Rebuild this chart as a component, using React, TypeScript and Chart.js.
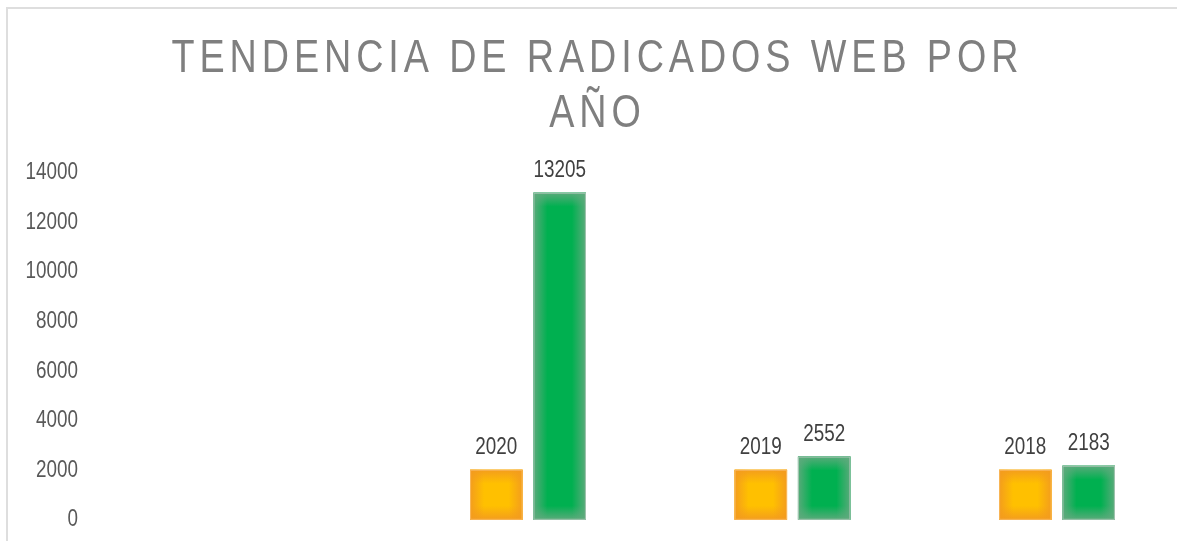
import React, { useEffect, useRef } from "react";
import { Chart, registerables } from "chart.js";

Chart.register(...registerables);

const categories = ["", "2020", "2019", "2018"];
const yearValues = [null, 2020, 2019, 2018];
const webValues = [null, 13205, 2552, 2183];
const yTicks = [0, 2000, 4000, 6000, 8000, 10000, 12000, 14000];
const titleLines = ["TENDENCIA DE RADICADOS WEB POR", "AÑO"];

const FONT = '"Liberation Sans", Arial, sans-serif';
const SQUEEZE = 0.82;

const barStyle: Record<number, { base: string; edge: string; fade: string; outline: string }> = {
  0: { base: "#FFC000", edge: "rgba(243,155,30,0.95)", fade: "rgba(243,155,30,0)", outline: "rgba(248,185,100,0.9)" },
  1: { base: "#00B050", edge: "rgba(95,170,125,0.95)", fade: "rgba(95,170,125,0)", outline: "rgba(175,200,185,0.9)" },
};

function squeezedText(ctx: CanvasRenderingContext2D, text: string, x: number, y: number, align: "left" | "center" | "right", spacing = 0) {
  ctx.save();
  (ctx as any).letterSpacing = spacing + "px";
  ctx.textAlign = "left";
  const w = (ctx.measureText(text).width - spacing) * SQUEEZE;
  let left = x;
  if (align === "center") left = x - w / 2;
  else if (align === "right") left = x - w;
  ctx.translate(left, y);
  ctx.scale(SQUEEZE, 1);
  ctx.fillText(text, 0, 0);
  ctx.restore();
}

const titlePlugin = {
  id: "customTitle",
  afterDraw(chart: any) {
    const ctx = chart.ctx as CanvasRenderingContext2D;
    ctx.save();
    ctx.fillStyle = "#7F7F7F";
    ctx.font = `46px ${FONT}`;
    ctx.textBaseline = "alphabetic";
    const baselines = [63, 118];
    titleLines.forEach((line, i) => squeezedText(ctx, line, 587, baselines[i], "center", 6));
    ctx.restore();
  },
};

const tickPlugin = {
  id: "yTickText",
  afterDraw(chart: any) {
    const ctx = chart.ctx as CanvasRenderingContext2D;
    const scale = chart.scales.y;
    ctx.save();
    ctx.fillStyle = "#595959";
    ctx.font = `23px ${FONT}`;
    ctx.textBaseline = "middle";
    yTicks.forEach((v) => squeezedText(ctx, String(v), 70, scale.getPixelForValue(v), "right"));
    ctx.restore();
  },
};

const barLookPlugin = {
  id: "barLook",
  afterDatasetsDraw(chart: any) {
    const ctx = chart.ctx as CanvasRenderingContext2D;
    chart.data.datasets.forEach((ds: any, di: number) => {
      const meta = chart.getDatasetMeta(di);
      const st = barStyle[di];
      meta.data.forEach((el: any, i: number) => {
        if (ds.data[i] == null) return;
        const { x, y, base, width } = el.getProps(["x", "y", "base", "width"], true);
        const l = x - width / 2;
        const t = Math.min(y, base);
        const h = Math.abs(base - y);
        const w = width;
        ctx.save();
        ctx.fillStyle = st.base;
        ctx.fillRect(l, t, w, h);
        const d = Math.min(14, w / 3.2, h / 3.2);
        const sides: [number, number, number, number, number, number, number, number][] = [
          [l, t, w, d, l, t, l, t + d],
          [l, t + h - d, w, d, l, t + h, l, t + h - d],
          [l, t, d, h, l, t, l + d, t],
          [l + w - d, t, d, h, l + w, t, l + w - d, t],
        ];
        sides.forEach(([rx, ry, rw, rh, gx0, gy0, gx1, gy1]) => {
          const g = ctx.createLinearGradient(gx0, gy0, gx1, gy1);
          g.addColorStop(0, st.edge);
          g.addColorStop(1, st.fade);
          ctx.fillStyle = g;
          ctx.fillRect(rx, ry, rw, rh);
        });
        ctx.strokeStyle = st.outline;
        ctx.lineWidth = 1;
        ctx.strokeRect(l + 0.5, t + 0.5, w - 1, h - 1);
        ctx.fillStyle = "#404040";
        ctx.font = `23px ${FONT}`;
        ctx.textBaseline = "alphabetic";
        squeezedText(ctx, String(ds.data[i]), x, t - 16, "center");
        ctx.restore();
      });
    });
  },
};

export default function App() {
  const ref = useRef<HTMLCanvasElement>(null);
  useEffect(() => {
    if (!ref.current) return;
    const chart = new Chart(ref.current, {
      type: "bar",
      data: {
        labels: categories,
        datasets: [
          { label: "Año", data: yearValues as any, backgroundColor: "#FFC000", barPercentage: 0.828, categoryPercentage: 0.479 },
          { label: "Radicados web", data: webValues as any, backgroundColor: "#00B050", barPercentage: 0.828, categoryPercentage: 0.479 },
        ],
      },
      options: {
        animation: false,
        responsive: false,
        maintainAspectRatio: false,
        layout: { padding: { left: 0, right: 18.75, top: 164, bottom: 49.2 } },
        plugins: { legend: { display: false }, title: { display: false }, tooltip: { enabled: false } },
        scales: {
          x: { display: false },
          y: {
            min: 0,
            max: 14000,
            afterBuildTicks: (scale: any) => {
              scale.ticks = yTicks.map((v) => ({ value: v }));
            },
            afterFit: (scale: any) => {
              scale.width = 123.25;
            },
            grid: { display: false, drawTicks: false },
            border: { display: false },
            ticks: { display: false },
          },
        },
      },
      plugins: [titlePlugin, tickPlugin, barLookPlugin],
    });
    return () => chart.destroy();
  }, []);
  return (
    <div style={{ position: "fixed", left: 0, top: 0, width: 1177, height: 541, overflow: "hidden", background: "#fff" }}>
      <div style={{ position: "absolute", left: 6, top: 7, width: 1200, height: 560, border: "2px solid #dedede" }}>
        <canvas ref={ref} width={1200} height={560} style={{ display: "block", width: 1200, height: 560 }} />
      </div>
    </div>
  );
}
